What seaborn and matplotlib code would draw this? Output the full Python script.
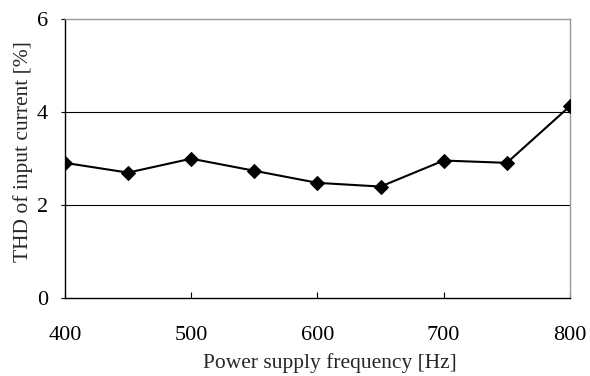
import seaborn as sns
import matplotlib.pyplot as plt
import pandas as pd

freq = [400, 450, 500, 550, 600, 650, 700, 750, 800]
thd = [2.91, 2.70, 3.00, 2.74, 2.48, 2.40, 2.96, 2.91, 4.13]

df = pd.DataFrame({'freq': freq, 'thd': thd})

sns.set_style('white')
plt.rcParams['font.family'] = ['Liberation Serif', 'DejaVu Serif']

fig = plt.figure(figsize=(5.9, 3.76), dpi=100)
ax = fig.add_axes([0.110, 0.207, 0.856, 0.742])

ax.axhline(2, color='black', lw=0.8, zorder=1)
ax.axhline(4, color='black', lw=0.8, zorder=1)

sns.lineplot(data=df, x='freq', y='thd', ax=ax, color='black', lw=1.5,
             marker='D', markersize=7, markeredgecolor='black', zorder=3)

ax.set_xlim(400, 800)
ax.set_ylim(0, 6)
ax.set_xticks([400, 500, 600, 700, 800])
ax.set_yticks([0, 2, 4, 6])
ax.tick_params(axis='x', labelsize=16, colors='black', length=4, width=0.8,
               direction='in', bottom=True, pad=20)
ax.tick_params(axis='y', labelsize=16, colors='black', length=3, width=0.8,
               direction='out', left=True, pad=9)

for side in ['top', 'right']:
    ax.spines[side].set_color('#999999')
    ax.spines[side].set_linewidth(1.0)
for side in ['left', 'bottom']:
    ax.spines[side].set_color('black')
    ax.spines[side].set_linewidth(1.0)

ax.set_xlabel('Power supply frequency [Hz]', fontsize=15.5, va='center')
ax.set_ylabel('THD of input current [%]', fontsize=15.5, va='center')
ax.xaxis.set_label_coords(0.525, -0.232)
ax.yaxis.set_label_coords(-0.082, 0.527)

fig.savefig('out.png', dpi=100)
